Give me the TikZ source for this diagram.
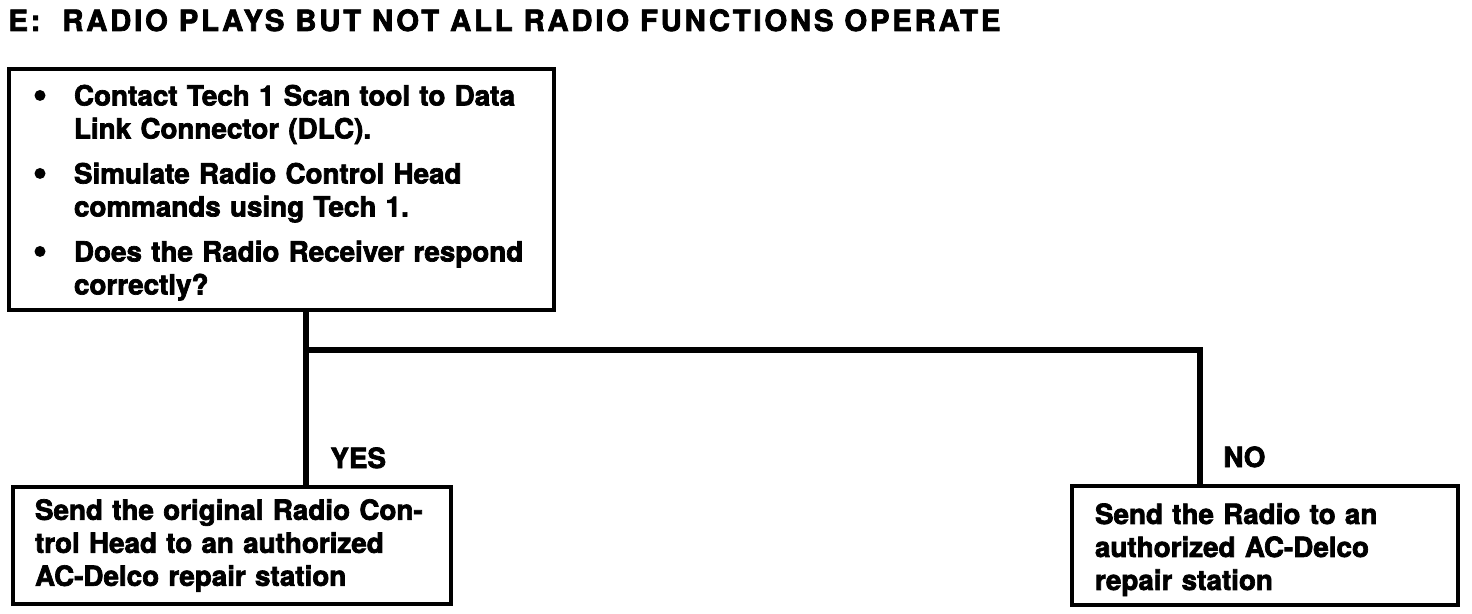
\documentclass[tikz,border=0pt]{standalone}
\usepackage{fontspec}
\setmainfont{TeX Gyre Heros}[BoldFeatures={FakeBold=2.5}]
\usepackage{tikz}

\newcommand{\dotmark}{\tikz[baseline=0pt]{\fill (3pt,5pt) circle (2.75pt); \useasboundingbox (0pt,0pt) rectangle (20pt,1pt);}}
\newcommand{\blt}{\hangindent=20pt\hangafter=1\noindent\dotmark}

\begin{document}
\begin{tikzpicture}[x=0.5pt, y=-0.5pt,
    chartbox/.style={draw, line width=2pt, outer sep=0pt,
      font=\bfseries\fontsize{13.9}{16.5}\selectfont},
    flowline/.style={line width=2.75pt},
    answer/.style={anchor=base west, inner sep=0pt,
      font=\bfseries\fontsize{13.9}{16.5}\selectfont}]
          \useasboundingbox (0, 0) rectangle (1472, 614);
          \node[anchor=base west, inner sep=0pt, font=\bfseries\fontsize{14.65}{17}\selectfont\addfontfeature{LetterSpace=9.5}] (title) at (8, 31) {E:\ \ RADIO PLAYS BUT NOT ALL RADIO FUNCTIONS OPERATE};
          \node[chartbox, anchor=north west, text width=247.5pt, inner xsep=12.5pt, inner ysep=4pt, minimum height=120.5pt,
            execute at begin node={\setlength{\parskip}{6pt}}] (check) at (9, 69)
            {\blt\rule{0pt}{13.5pt}Contact Tech 1 Scan tool to Data\newline Link Connector (DLC).\par
             \blt Simulate Radio Control Head\newline commands using Tech 1.\par
             \blt Does the Radio Receiver respond\newline correctly?\par};
          \node[chartbox, anchor=north west, text width=197pt, inner xsep=11pt, minimum height=58.5pt] (yesbox) at (13, 487)
            {Send the original Radio Con-\\ trol Head to an authorized\\ AC-Delco repair station};
          \node[chartbox, anchor=north west, text width=170pt, inner xsep=11.5pt, minimum height=59.5pt] (nobox) at (1072, 486)
            {\rule{0pt}{14.5pt}Send the Radio to an\\ authorized AC-Delco\\ repair station};
          \coordinate (split) at (306, 350);
          \coordinate (turn) at (1200, 350);
          \draw[flowline] (split |- check.south) -- (split |- yesbox.north);
          \draw[flowline] (split) -- (turn) -- (turn |- nobox.north);
          \node[answer] (yes) at (330, 468) {YES};
          \node[answer] (no) at (1223, 467) {NO};
        \end{tikzpicture}
\end{document}
